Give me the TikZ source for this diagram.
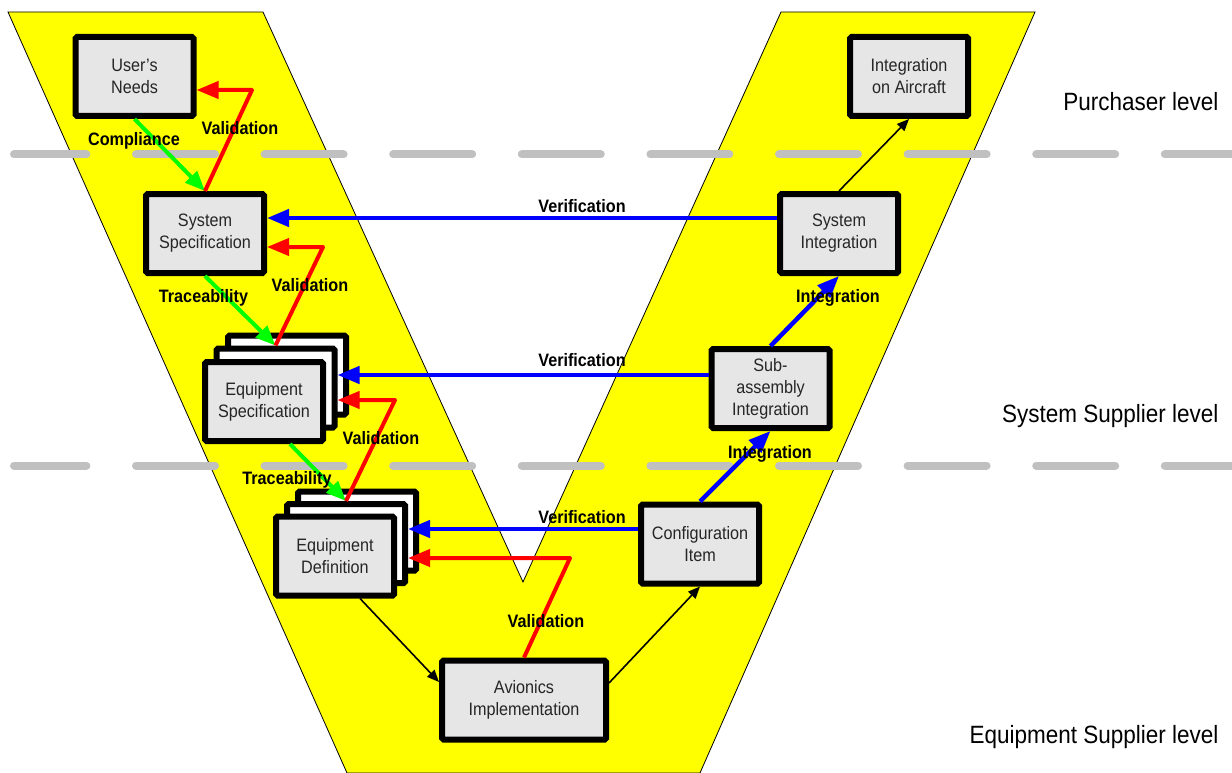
\documentclass[tikz,border=0pt]{standalone}
\usepackage{fontspec}
\setmainfont[FakeStretch=0.9]{Liberation Sans}
\usetikzlibrary{arrows.meta}
\definecolor{vyellow}{RGB}{255,255,0}
\definecolor{levelgray}{RGB}{192,192,192}
\definecolor{boxgray}{RGB}{230,230,230}
\tikzstyle{box}=[rectangle,draw=black,line width=6pt,fill=boxgray,rounded corners=1.5pt,minimum width=118pt,minimum height=79pt,inner sep=2pt,align=center,text=black!85,font=\fontsize{18}{22}\selectfont]
\tikzstyle{back box}=[box,fill=white]
\tikzstyle{wide box}=[box,minimum width=164pt]
\tikzstyle{level line}=[draw=levelgray,line width=8pt,line cap=round,dash pattern=on 79pt off 49.6pt,dash phase=6.6pt]
\tikzstyle{level}=[anchor=base east,font=\fontsize{25}{30}\selectfont]
\tikzstyle{tag}=[anchor=base,inner sep=0pt,font=\fontsize{18}{22}\selectfont\bfseries]
\tikzstyle{trace}=[draw=green,line width=4pt,-{Triangle[length=20pt,width=16pt]}]
\tikzstyle{valid}=[draw=red,line width=4pt,line join=round,-{Triangle[length=22pt,width=17pt]}]
\tikzstyle{verif}=[draw=blue,line width=4.5pt,-{Triangle[length=22pt,width=17pt]}]
\tikzstyle{flow}=[draw=black,line width=1.6pt,-{Triangle[length=12pt,width=10pt]}]

\begin{document}
\begin{tikzpicture}[x=1pt,y=-1pt]
    \useasboundingbox (0,0) rectangle (1232,773);
    % The yellow V and the level separators
    \filldraw[fill=vyellow,draw=black,line width=0.8pt]
        (8,12) -- (263,12) -- (523,582) -- (781,12) -- (1035,12) -- (700,773) -- (347,773) -- cycle;
    \foreach \y in {154.5,465.5}
        \path[level line] (14,\y) -- (1232,\y);

    \node[level] (purchaser) at (1222,111) {Purchaser level};
    \node[level] (syssup) at (1222,422) {System Supplier level};
    \node[level] (equsup) at (1222,743) {Equipment Supplier level};

    % First the stacked sheets behind the specifications
    \foreach \pos/\name in {{(287,375)/espec3},{(275.5,388)/espec2},{(357,531)/edef3},{(346,543.5)/edef2}}
        \node[back box] (\name) at \pos {};

    % Then the boxes of the V
    \foreach \pos/\name/\txt in {{(134.5,76.5)/needs/User's\\Needs},
        {(205,233.5)/sysspec/System\\Specification},
        {(264,401.5)/espec/Equipment\\Specification},
        {(335,556)/edef/Equipment\\Definition},
        {(700,544)/config/Configuration\\Item},
        {(770.5,388.5)/subasm/Sub-\\assembly\\Integration},
        {(839,233.5)/sysint/System\\Integration},
        {(909,76.5)/aircraft/Integration\\on Aircraft}}
        \node[box] (\name) at \pos {\txt};
    \node[wide box] (avionics) at (524,700) {Avionics\\Implementation};

    % Compliance and traceability
    \path[trace] (needs.south) -- (sysspec.north);
    \path[trace] (sysspec.south) -- (espec2.north);
    \path[trace] ([xshift=26pt]espec.south) -- (edef2.north);

    % Validation loops
    \coordinate (val1) at (252,90);
    \coordinate (val2) at (323,247);
    \coordinate (val3) at (395,400);
    \coordinate (val4) at (570,558);
    \path[valid] (sysspec.north) -- (val1) -- (val1 -| needs.east);
    \path[valid] (espec2.north) -- (val2) -- (val2 -| sysspec.east);
    \path[valid] (edef2.north) -- (val3) -- (val3 -| espec2.east);
    \path[valid] (avionics.north) -- (val4) -- (val4 -| edef2.east);

    % Verification across the V
    \coordinate (ver1) at ([yshift=15.5pt]sysint.west);
    \coordinate (ver2) at ([yshift=13.5pt]subasm.west);
    \coordinate (ver3) at ([yshift=15pt]config.west);
    \path[verif] (ver1) -- (ver1 -| sysspec.east);
    \path[verif] (ver2) -- (ver2 -| espec2.east);
    \path[verif] (ver3) -- (ver3 -| edef2.east);

    % Integration up the right arm
    \foreach \source/\dest in {config.north/subasm.south, subasm.north/sysint.south}
        \path[verif] (\source) -- (\dest);
    \path[flow] ([xshift=25pt]edef.south) -- ([yshift=18pt]avionics.west);
    \path[flow] ([yshift=17pt]avionics.east) -- (config.south);
    \path[flow] (sysint.north) -- (aircraft.south);

    % Arrow labels
    \foreach \pos/\txt in {{(134,146)/Compliance},{(240,135)/Validation},{(310,291)/Validation},
        {(203.5,302)/Traceability},{(381,444)/Validation},{(287,484)/Traceability},
        {(582,212)/Verification},{(582,366)/Verification},{(582,523)/Verification},
        {(546,627)/Validation},{(770,458)/Integration},{(838,302)/Integration}}
        \node[tag] at \pos {\txt};
\end{tikzpicture}
\end{document}
